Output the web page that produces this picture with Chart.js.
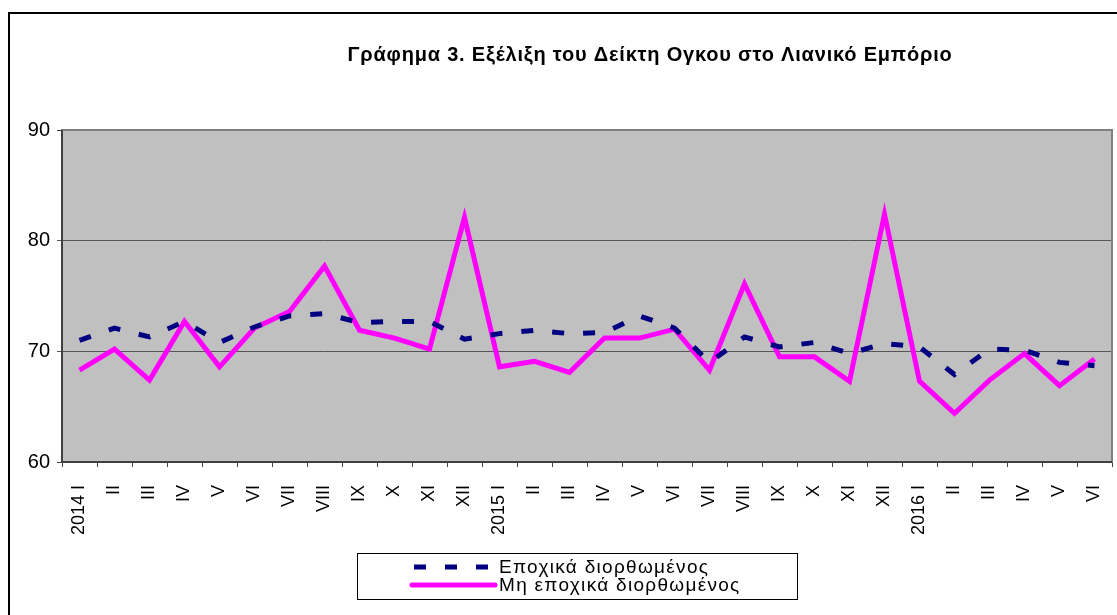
<!DOCTYPE html>
<html>
<head>
<meta charset="utf-8">
<script src="https://cdn.jsdelivr.net/npm/chart.js@4/dist/chart.umd.min.js"></script>
<style>
  html, body { margin: 0; padding: 0; background: #fff; }
  #wrap { width: 1117px; height: 615px; position: relative; }
</style>
</head>
<body>
<div id="wrap"><canvas id="chart"></canvas></div>
<script>
'use strict';
// Γράφημα 3 - Δείκτης Όγκου στο Λιανικό Εμπόριο, 2014 I - 2016 VI
const months = ['2014 I', 'II', 'III', 'IV', 'V', 'VI', 'VII', 'VIII', 'IX', 'X', 'XI', 'XII',
  '2015 I', 'II', 'III', 'IV', 'V', 'VI', 'VII', 'VIII', 'IX', 'X', 'XI', 'XII',
  '2016 I', 'II', 'III', 'IV', 'V', 'VI'];
const seasonallyAdjusted = [71.0, 72.1, 71.3, 72.7, 70.8, 72.2, 73.2, 73.4, 72.6, 72.7, 72.7, 71.1,
  71.6, 71.9, 71.6, 71.7, 73.2, 72.1, 69.0, 71.3, 70.4, 70.8, 69.8, 70.7,
  70.4, 67.9, 70.2, 70.1, 69.0, 68.7];
const notAdjusted = [68.3, 70.2, 67.4, 72.7, 68.6, 72.1, 73.6, 77.7, 71.9, 71.2, 70.2, 82.1,
  68.6, 69.1, 68.1, 71.2, 71.2, 72.0, 68.3, 76.1, 69.5, 69.5, 67.3, 82.4,
  67.3, 64.4, 67.4, 69.8, 66.9, 69.3];
const yTicks = [60, 70, 80, 90];
const titleText = 'Γράφημα 3. Εξέλιξη του Δείκτη Ογκου στο Λιανικό Εμπόριο';
const seriesNames = ['Εποχικά διορθωμένος', 'Μη εποχικά διορθωμένος'];

const FONT = '"Liberation Sans", Arial, sans-serif';
const DASH = [12, 19];

// page frame, plot background and plot border, title and legend
const framePlugin = {
  id: 'frame',
  beforeDraw(chart) {
    const { ctx, chartArea: a } = chart;
    ctx.save();
    ctx.fillStyle = '#fff';
    ctx.fillRect(0, 0, chart.width, chart.height);
    ctx.strokeStyle = '#000';
    ctx.lineWidth = 2;
    ctx.beginPath();
    ctx.moveTo(9, chart.height);
    ctx.lineTo(9, 13);
    ctx.lineTo(chart.width, 13);
    ctx.stroke();
    ctx.fillStyle = '#c0c0c0';
    ctx.fillRect(a.left, a.top, a.right - a.left, a.bottom - a.top);
    ctx.restore();
  },
  afterDatasetsDraw(chart) {
    const { ctx, chartArea: a } = chart;
    ctx.save();
    ctx.strokeStyle = '#808080';
    ctx.lineWidth = 2;
    ctx.strokeRect(a.left, a.top, a.right - a.left, a.bottom - a.top);
    ctx.strokeStyle = '#404040';
    ctx.beginPath();
    ctx.moveTo(a.left, a.top);
    ctx.lineTo(a.left, a.bottom);
    ctx.lineTo(a.right, a.bottom);
    ctx.stroke();
    ctx.restore();
  },
  afterDraw(chart) {
    const { ctx } = chart;
    ctx.save();
    // title
    ctx.fillStyle = '#000';
    ctx.font = 'bold 20px ' + FONT;
    ctx.letterSpacing = '0.8px';
    ctx.textAlign = 'center';
    ctx.textBaseline = 'middle';
    ctx.fillText(titleText, 650, 55);
    // legend box
    const bx = 357, by = 553, bw = 440, bh = 46;
    ctx.letterSpacing = '1.3px';
    ctx.strokeStyle = '#000';
    ctx.lineWidth = 1;
    ctx.strokeRect(bx + 0.5, by + 0.5, bw, bh);
    const rows = [by + 14, by + 32];
    chart.data.datasets.forEach((ds, i) => {
      ctx.strokeStyle = ds.borderColor;
      ctx.lineWidth = ds.borderWidth;
      ctx.setLineDash(ds.borderDash || []);
      ctx.lineCap = ds.borderDash ? 'butt' : 'round';
      ctx.beginPath();
      ctx.moveTo(ds.borderDash ? 414 : 412, rows[i]);
      ctx.lineTo(495, rows[i]);
      ctx.stroke();
      ctx.setLineDash([]);
      ctx.fillStyle = '#000';
      ctx.font = '19px ' + FONT;
      ctx.textAlign = 'left';
      ctx.fillText(ds.label, 499, rows[i] + 1);
    });
    ctx.restore();
  }
};

new Chart(document.getElementById('chart'), {
  type: 'line',
  data: {
    labels: months,
    datasets: [
      {
        label: seriesNames[0],
        data: seasonallyAdjusted,
        borderColor: '#000080',
        borderWidth: 5,
        borderDash: DASH,
        pointRadius: 0,
        tension: 0,
      },
      {
        label: seriesNames[1],
        data: notAdjusted,
        borderColor: '#ff00ff',
        borderWidth: 5,
        pointRadius: 0,
        tension: 0,
        borderJoinStyle: 'miter',
      },
    ],
  },
  options: {
    responsive: true,
    maintainAspectRatio: false,
    animation: false,
    layout: { padding: { left: 0, top: 130, right: 5, bottom: 0 } },
    plugins: {
      legend: { display: false },
      title: { display: false },
      tooltip: { enabled: false },
    },
    scales: {
      x: {
        offset: true,
        grid: { offset: true, drawOnChartArea: false, tickLength: 5, color: '#404040' },
        border: { display: false },
        ticks: {
          color: '#000',
          font: { family: FONT, size: 18 },
          minRotation: 90,
          maxRotation: 90,
          autoSkip: false,
          padding: 18,
        },
        afterFit(scale) {
          scale.height = 153;
          scale.paddingLeft = 0;
          scale.paddingRight = 0;
        },
      },
      y: {
        min: 60,
        max: 90,
        afterBuildTicks(scale) { scale.ticks = yTicks.map(v => ({ value: v })); },
        grid: {
          tickLength: 5,
          color: (c) => (c.tick && (c.tick.value === 70 || c.tick.value === 80)) ? '#555555' : '#404040',
          lineWidth: 1,
        },
        border: { display: false },
        ticks: {
          color: '#000',
          font: { family: FONT, size: 20 },
          padding: 7,
        },
        afterFit(scale) { scale.width = 62; },
      },
    },
  },
  plugins: [framePlugin],
});
</script>
</body>
</html>
